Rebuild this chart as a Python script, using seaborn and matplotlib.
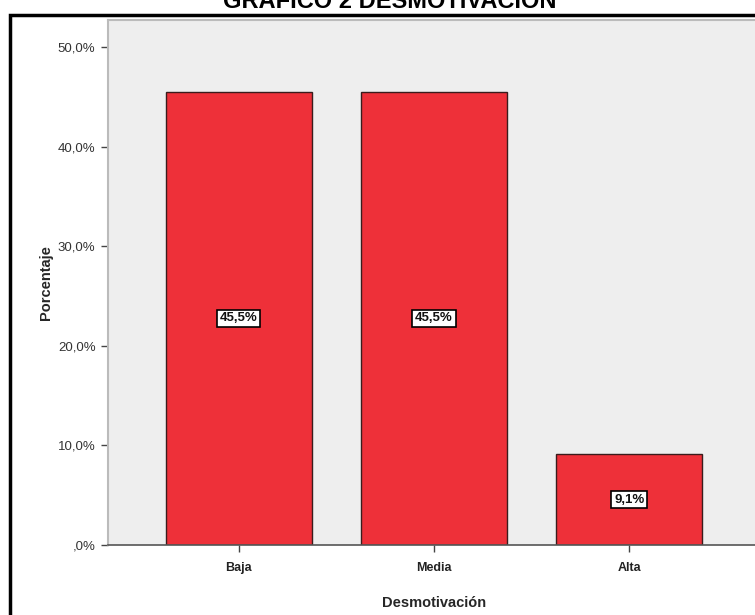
import matplotlib
matplotlib.use("Agg")
import matplotlib.pyplot as plt
from matplotlib.patches import Rectangle
import seaborn as sns
import pandas as pd

categorias = ["Baja", "Media", "Alta"]
porcentajes = [45.5, 45.5, 9.1]
ticks_y = [0, 10, 20, 30, 40, 50]
etiquetas_y = [",0%", "10,0%", "20,0%", "30,0%", "40,0%", "50,0%"]

sns.set_theme(style="white")
plt.rcParams["font.family"] = ["Liberation Sans", "DejaVu Sans"]

df = pd.DataFrame({"Desmotivación": categorias, "Porcentaje": porcentajes})

fig = plt.figure(figsize=(7.55, 6.15), dpi=100)
ax = fig.add_axes([108 / 755, 1 - 545 / 615, 652 / 755, 525 / 615])
ax.set_facecolor("#EEEEEE")

sns.barplot(data=df, x="Desmotivación", y="Porcentaje", order=categorias,
            color="#EE3039", saturation=1, width=0.75,
            edgecolor="#3a1c1c", linewidth=1.0, ax=ax)

ax.set_xlim(-0.67, 2.67)
ax.set_ylim(0, 52.7)
ax.set_yticks(ticks_y)
ax.set_yticklabels(etiquetas_y, fontsize=9.5, color="#333333")
ax.set_xticks(range(len(categorias)))
ax.set_xticklabels(categorias, fontsize=9, fontweight="bold", color="#222222")
ax.tick_params(axis="both", which="both", direction="out", length=5,
               width=1, color="#444444", left=True, bottom=True, pad=4)
ax.tick_params(axis="x", pad=7)

for side in ["top", "right", "left"]:
    ax.spines[side].set_color("#BBBBBB")
    ax.spines[side].set_linewidth(1.5)
ax.spines["bottom"].set_color("#555555")
ax.spines["bottom"].set_linewidth(1.2)

ax.set_ylabel("Porcentaje", fontsize=10.5, fontweight="bold")
ax.set_xlabel("Desmotivación", fontsize=10.5, fontweight="bold")
ax.yaxis.set_label_coords(-0.085, 0.5)
ax.xaxis.set_label_coords(0.5, -0.098)

for i, v in enumerate(porcentajes):
    ax.text(i, v / 2, f"{v:.1f}%".replace(".", ","), ha="center", va="center",
            fontsize=9.5, fontweight="bold", color="#111111",
            bbox=dict(boxstyle="square,pad=0.2", facecolor="white",
                      edgecolor="black", linewidth=1.2))

# outer frame around the chart
fig.patches.append(Rectangle((10 / 755, -0.05), 1.1, 1 - 15 / 615 + 0.05,
                             transform=fig.transFigure, fill=False,
                             edgecolor="black", linewidth=2.5))

fig.text(390 / 755, 1 - 8 / 615, "GRÁFICO 2 DESMOTIVACIÓN", ha="center",
         va="baseline", fontsize=17, fontweight="bold", color="black")

fig.savefig("out.png", dpi=100)
